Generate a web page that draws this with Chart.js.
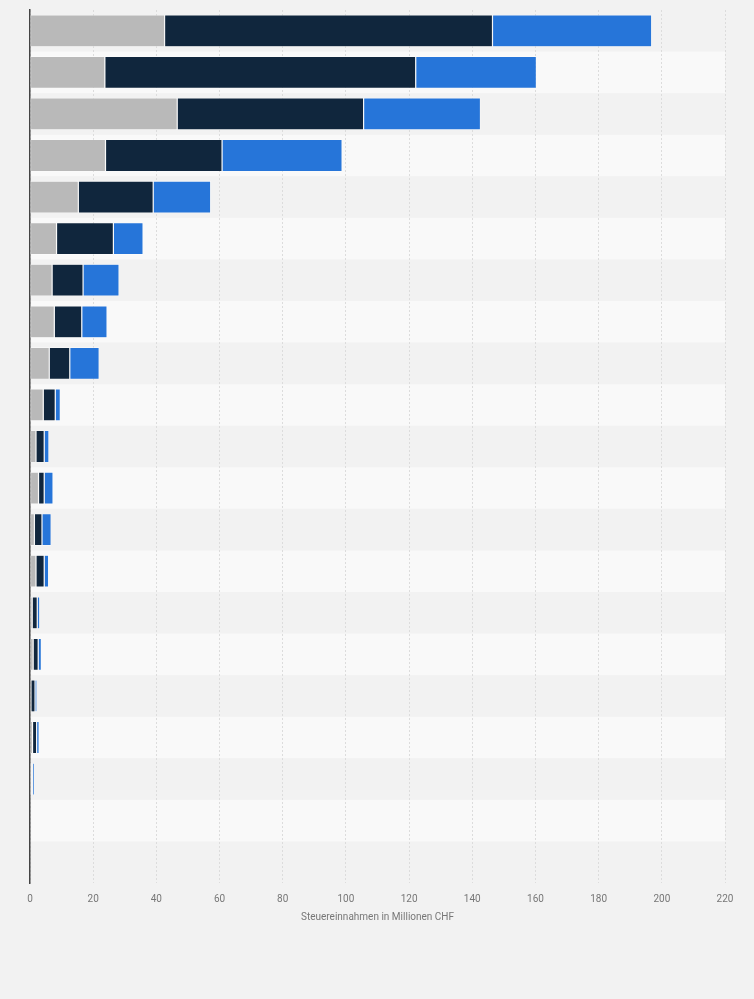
<!DOCTYPE html>
<html>
<head>
<meta charset="utf-8">
<script src="https://cdn.jsdelivr.net/npm/chart.js@4"></script>
<style>
  html, body { margin: 0; padding: 0; background: #f2f2f2; }
  #wrap { width: 754px; height: 999px; }
</style>
</head>
<body>
<div id="wrap"><canvas id="taxChart" width="754" height="999"></canvas></div>
<script>
// rows top to bottom (labels are not shown in the picture)
var rowLabels = ['1','2','3','4','5','6','7','8','9','10','11','12','13','14','15','16','17','18','19','20','21'];

var grayVals = [42.6, 23.7, 46.6, 23.9, 15.3, 8.4, 7.0, 7.7, 6.1, 4.2, 1.9, 2.7, 1.4, 1.9, 0.7, 1.0, 0.3, 0.8, 0.5, null, null];
var navyVals = [103.8, 98.4, 59.0, 36.9, 23.7, 18.0, 9.8, 8.7, 6.5, 3.8, 2.6, 1.8, 2.4, 2.6, 1.6, 1.6, 1.3, 1.3, 0.3, null, null];
var blueVals = [50.4, 38.2, 37.0, 38.0, 18.2, 9.4, 11.4, 8.0, 9.3, 1.6, 1.5, 2.8, 2.9, 1.4, 0.8, 1.0, 0.6, 0.8, 0.6, null, null];

var seriesNames = ['Serie 1', 'Serie 2', 'Serie 3'];
var xTicks = [0, 20, 40, 60, 80, 100, 120, 140, 160, 180, 200, 220];
var axisTitle = 'Steuereinnahmen in Millionen CHF';

// alternating light row bands behind the bars
var rowBands = {
  id: 'rowBands',
  beforeDraw: function(chart) {
    var ctx = chart.ctx, area = chart.chartArea, ys = chart.scales.y;
    var step = (area.bottom - area.top) / rowLabels.length;
    ctx.save();
    ctx.fillStyle = '#f9f9f9';
    for (var i = 0; i < rowLabels.length; i++) {
      if (i % 2 === 1) {
        var c = ys.getPixelForValue(i);
        ctx.fillRect(area.left, c - step / 2, area.right - area.left, step);
      }
    }
    ctx.restore();
  }
};

var ctx = document.getElementById('taxChart').getContext('2d');
var myChart = new Chart(ctx, {
  type: 'bar',
  data: {
    labels: rowLabels,
    datasets: [
      { label: seriesNames[0], data: grayVals, backgroundColor: '#b9b9b9' },
      { label: seriesNames[1], data: navyVals, backgroundColor: '#10263d' },
      { label: seriesNames[2], data: blueVals, backgroundColor: '#2675d9' }
    ]
  },
  options: {
    indexAxis: 'y',
    responsive: false,
    animation: false,
    devicePixelRatio: 1,
    layout: { padding: { left: 22, right: 29, top: 10, bottom: 76 } },
    datasets: {
      bar: {
        barPercentage: 0.77,
        categoryPercentage: 1,
        borderWidth: 0.6,
        borderColor: 'rgba(255,255,255,0.7)',
        borderSkipped: false
      }
    },
    scales: {
      x: {
        stacked: true,
        min: 0, max: 220,
        afterBuildTicks: function(axis) { axis.ticks = xTicks.map(function(v){ return { value: v }; }); },
        grid: { color: '#dcdcdc', lineWidth: 1, drawTicks: false },
        border: { display: false, dash: [2, 2] },
        ticks: { padding: 10, color: '#777', font: { family: 'Roboto', size: 10 } },
        title: { display: true, text: axisTitle, color: '#777', padding: { top: -4, bottom: 0 }, font: { family: 'Roboto', size: 10 } }
      },
      y: {
        stacked: true,
        grid: { display: false },
        ticks: { display: false },
        border: { display: true, color: '#444', width: 1.5 }
      }
    },
    plugins: {
      legend: { display: false },
      tooltip: { enabled: false }
    }
  },
  plugins: [rowBands]
});
</script>
</body>
</html>
